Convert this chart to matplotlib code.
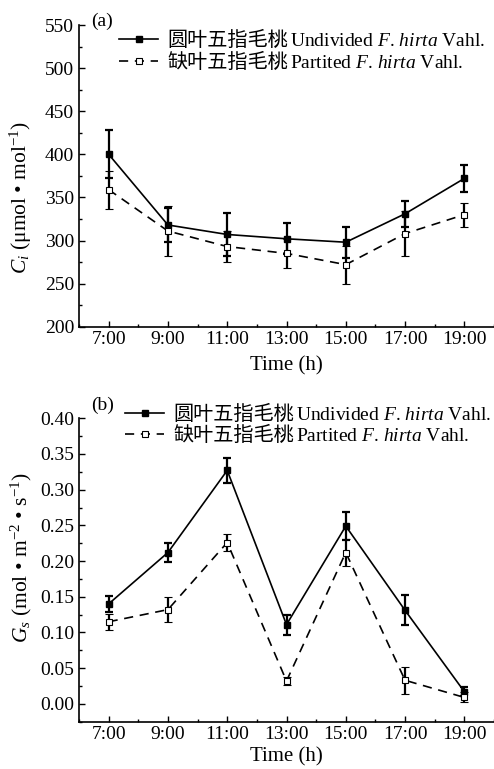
import matplotlib
matplotlib.use("Agg")
import matplotlib.pyplot as plt
from matplotlib.ticker import MultipleLocator

plt.rcParams['font.family'] = ['Liberation Serif', 'Noto Sans CJK SC']
plt.rcParams['mathtext.fontset'] = 'custom'
plt.rcParams['mathtext.rm'] = 'Liberation Serif'
plt.rcParams['mathtext.it'] = 'Liberation Serif:italic'

hours = [7, 9, 11, 13, 15, 17, 19]
tick_labels = ['7:00', '9:00', '11:00', '13:00', '15:00', '17:00', '19:00']

ci_undiv = [400, 318, 307, 302, 298, 331, 372]
ci_undiv_err = [28, 20, 25, 18, 18, 15, 16]
ci_part = [359, 311, 293, 285, 272, 308, 330]
ci_part_err = [22, 29, 18, 17, 22, 26, 14]

gs_undiv = [0.140, 0.212, 0.327, 0.111, 0.249, 0.131, 0.017]
gs_undiv_err = [0.011, 0.013, 0.017, 0.014, 0.020, 0.021, 0.006]
gs_part = [0.115, 0.132, 0.226, 0.032, 0.212, 0.033, 0.009]
gs_part_err = [0.011, 0.018, 0.012, 0.006, 0.019, 0.019, 0.007]

lab_cn = ['圆叶五指毛桃', '缺叶五指毛桃']
lab_en = ['Undivided $F$. $hirta$ Vahl.', 'Partited $F$. $hirta$ Vahl.']

W, H = 494, 769
fig = plt.figure(figsize=(W / 100, H / 100), dpi=100)

def axes_px(left, top, right, bottom):
    return fig.add_axes([left / W, 1 - bottom / H, (right - left) / W, (bottom - top) / H])

ax1 = axes_px(79, 25, 494, 326.7)
ax2 = axes_px(79, 418.3, 494, 721.7)

fs = 14
legends = []

def draw(ax, u, ue, p, pe, ylim, major, minor, ylabel, ylab_y, fmt, panel, panel_y,
         leg_x, leg_y, xpad):
    ax.errorbar(hours, u, yerr=ue, color='black', lw=1.2, marker='s', ms=5,
                mfc='black', mec='black', capsize=3, elinewidth=1.6, capthick=1.6,
                label=lab_cn[0], zorder=3)
    ax.errorbar(hours, p, yerr=pe, color='black', lw=1.2, ls=(0, (5.5, 4)), marker='s', ms=5,
                mfc='white', mec='black', mew=0.8, capsize=3, elinewidth=1.6, capthick=1.6,
                label=lab_cn[1], zorder=3)
    ax.set_xlim(6, 20)
    ax.set_ylim(*ylim)
    ax.set_xticks(hours)
    ax.set_xticklabels(tick_labels)
    ax.xaxis.set_minor_locator(MultipleLocator(1))
    ax.yaxis.set_major_locator(MultipleLocator(major))
    ax.yaxis.set_minor_locator(MultipleLocator(minor))
    ax.yaxis.set_major_formatter(plt.FormatStrFormatter(fmt))
    for s in ['top', 'right']:
        ax.spines[s].set_visible(False)
    for s in ['left', 'bottom']:
        ax.spines[s].set_linewidth(1.2)
    ax.tick_params(which='major', direction='in', length=4.5, width=1.0, labelsize=fs)
    ax.tick_params(which='minor', direction='in', length=2.5, width=1.0)
    ax.tick_params(axis='x', which='major', pad=3)
    ax.set_xlabel('Time (h)', fontsize=15, labelpad=xpad)
    ax.set_ylabel(ylabel, fontsize=15.5)
    ax.yaxis.set_label_coords((34 - 79) / 415, ylab_y)
    fig.text(91 / W, 1 - panel_y / H, panel, fontsize=fs, va='center', ha='left')
    h, l = ax.get_legend_handles_labels()
    h = [x[0] for x in h]
    leg = fig.legend(h, l, loc='center left', bbox_to_anchor=(leg_x / W, 1 - leg_y / H),
                     frameon=False, fontsize=14.5, handlelength=1.95, handletextpad=0.45,
                     labelspacing=0.12, borderaxespad=0, borderpad=0)
    legends.append(leg)

draw(ax1, ci_undiv, ci_undiv_err, ci_part, ci_part_err, (200, 550), 50, 25,
     '$C_i$ (μmol • mol$^{-1}$)', 0.43, '%d', '(a)', 21.5, 119, 52.5, 6)
draw(ax2, gs_undiv, gs_undiv_err, gs_part, gs_part_err, (-0.025, 0.40), 0.05, 0.025,
     '$G_s$ (mol • m$^{-2}$ • s$^{-1}$)', 0.543, '%.2f', '(b)', 405, 125, 426, 3.5)

fig.canvas.draw()
renderer = fig.canvas.get_renderer()
for leg in legends:
    for txt, en in zip(leg.get_texts(), lab_en):
        bb = txt.get_window_extent(renderer)
        bx, by = txt.get_transform().transform(txt.get_position())
        fig.text((bb.x1 + 1.5) / W, by / H, en, fontsize=14, ha='left', va='baseline')

fig.savefig('out.png', dpi=100)
